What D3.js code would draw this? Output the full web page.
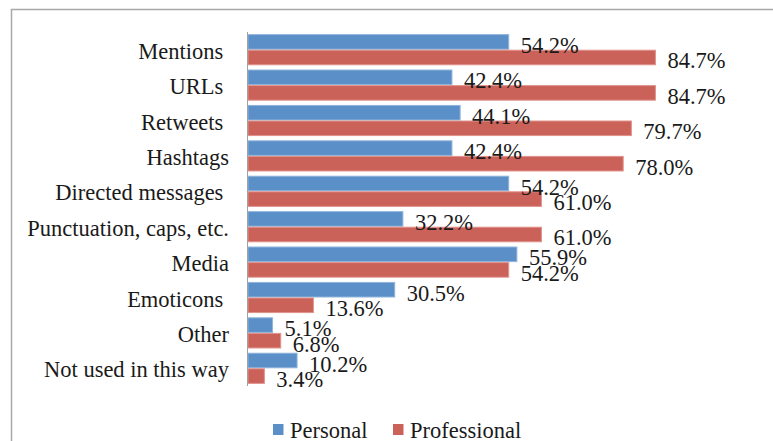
<!DOCTYPE html>
<html>
<head>
<meta charset="utf-8">
<script src="https://cdn.jsdelivr.net/npm/d3@7"></script>
<style>
  body { margin: 0; background: #fff; }
  svg text { font-family: "Liberation Serif", "DejaVu Serif", serif; fill: #1a1a1a; white-space: pre; }
</style>
</head>
<body>
<svg id="svg" width="773" height="441"></svg>
<script>
// categories, top to bottom (trailing spaces kept as in the original labels)
const categories = ["Mentions ", "URLs ", "Retweets ", "Hashtags", "Directed messages ",
  "Punctuation, caps, etc.", "Media", "Emoticons ", "Other", "Not used in this way"];
const personal = [54.2, 42.4, 44.1, 42.4, 54.2, 32.2, 55.9, 30.5, 5.1, 10.2];
const professional = [84.7, 84.7, 79.7, 78.0, 61.0, 61.0, 54.2, 13.6, 6.8, 3.4];
const seriesNames = ["Personal", "Professional"];
const colors = ["#5a8fc8", "#cb6259"];
const strokes = ["#8fb4dc", "#e0928c"];

const fontSize = 22.5;
const svg = d3.select("#svg");

// outer frame
svg.append("rect")
  .attr("x", 11.5).attr("y", 9.5)
  .attr("width", 820).attr("height", 500)
  .attr("fill", "none")
  .attr("stroke", "#a8a8a8")
  .attr("stroke-width", 1.5);

const x = d3.scaleLinear().domain([0, 100]).range([248, 729]);
const y = d3.scaleBand().domain(categories).range([32, 386])
  .paddingInner(0.12).paddingOuter(0.06);
const ySub = d3.scaleBand().domain(seriesNames).range([0, y.bandwidth()]);

const rows = categories.map((c, i) => ({ cat: c, values: [personal[i], professional[i]] }));

const group = svg.selectAll("g.cat")
  .data(rows)
  .enter()
  .append("g")
  .attr("class", "cat")
  .attr("transform", d => `translate(0,${y(d.cat)})`);

group.selectAll("rect")
  .data(d => d.values.map((v, k) => ({ v, k })))
  .enter()
  .append("rect")
  .attr("x", x(0))
  .attr("y", d => ySub(seriesNames[d.k]) + 0.5)
  .attr("width", d => x(d.v) - x(0))
  .attr("height", ySub.bandwidth() - 1)
  .attr("fill", d => colors[d.k])
  .attr("stroke", d => strokes[d.k])
  .attr("stroke-width", 1);

// value labels
group.selectAll("text.val")
  .data(d => d.values.map((v, k) => ({ v, k })))
  .enter()
  .append("text")
  .attr("class", "val")
  .attr("x", d => x(d.v) + 12)
  .attr("y", d => ySub(seriesNames[d.k]) + ySub.bandwidth() / 2 + 11)
  .attr("font-size", fontSize)
  .text(d => d.v.toFixed(1) + "%");

// category labels
svg.selectAll("text.cat-label")
  .data(categories)
  .enter()
  .append("text")
  .attr("class", "cat-label")
  .attr("x", 229)
  .attr("y", d => y(d) + y.bandwidth() / 2 + 9)
  .attr("text-anchor", "end")
  .attr("font-size", fontSize)
  .text(d => d);

// vertical axis line
svg.append("line")
  .attr("x1", x(0) - 0.5).attr("x2", x(0) - 0.5)
  .attr("y1", 32).attr("y2", 386)
  .attr("stroke", "#a0a0a0")
  .attr("stroke-width", 1);

// legend
const legendX = [273, 393];
const legend = svg.selectAll("g.legend")
  .data(seriesNames)
  .enter()
  .append("g")
  .attr("class", "legend")
  .attr("transform", (d, i) => `translate(${legendX[i]},424)`);

legend.append("rect")
  .attr("width", 10.5).attr("height", 11)
  .attr("fill", (d, i) => colors[i]);

legend.append("text")
  .attr("x", 17)
  .attr("y", 14)
  .attr("font-size", fontSize)
  .text(d => d);
</script>
</body>
</html>
